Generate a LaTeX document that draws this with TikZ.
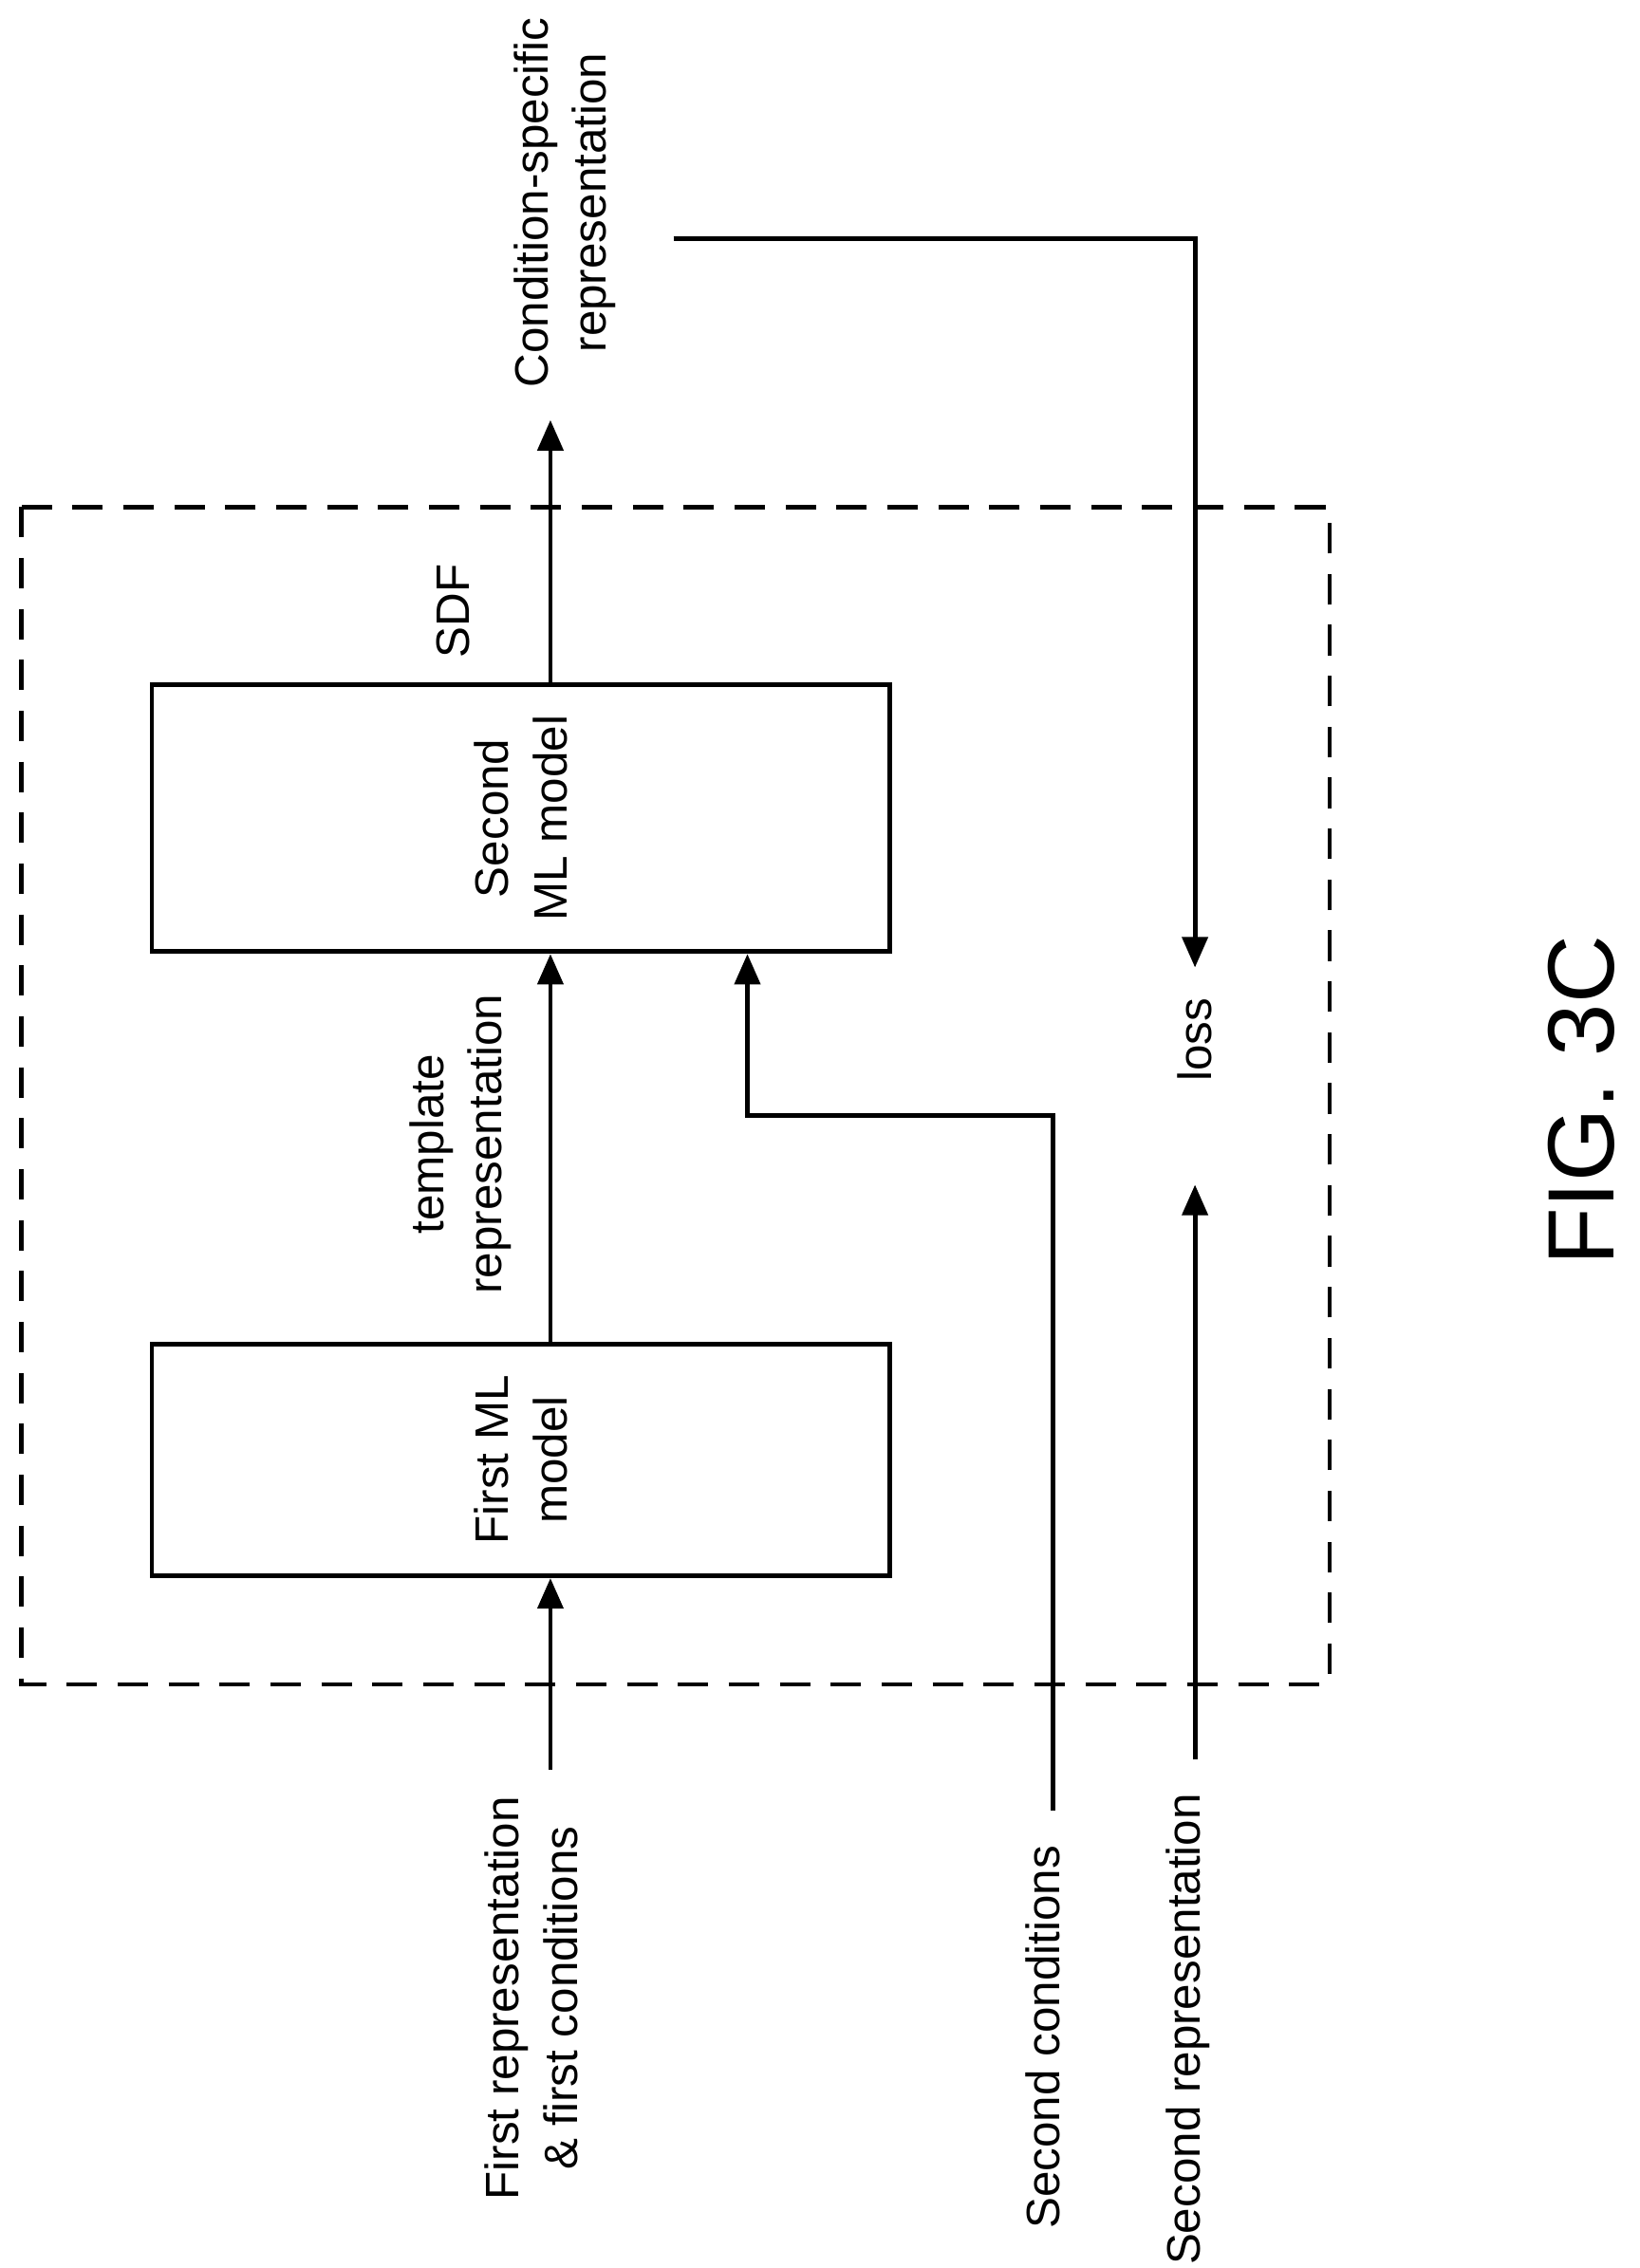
\documentclass[tikz,border=0pt]{standalone}
\usepackage{fontspec}
\setmainfont{Liberation Sans}
\usetikzlibrary{arrows.meta}
\tikzset{
  model/.style={draw,line width=0.9pt,inner sep=0pt},
  lbl/.style={rotate=90,font=\fontsize{9.2}{11.5}\selectfont,align=center},
  flow/.style={line width=0.9pt,-{Triangle[length=6pt,width=5pt]}}
}
\begin{document}
\begin{tikzpicture}[x=0.01cm,y=-0.01cm]
    \useasboundingbox (0,0) rectangle (1132,1566);
    \draw[dashed,line width=0.9pt,dash pattern=on 6pt off 4pt] (15,350) rectangle (918,1163);
    \node[model,minimum width=5.09cm,minimum height=1.6cm] (F) at (359.5,1008) {};
    \node[model,minimum width=5.09cm,minimum height=1.84cm] (S) at (359.5,565) {};
    \node[lbl] at (F.center) {First ML\\model};
    \node[lbl] at (S.center) {Second\\ML model};
    \coordinate (in1) at (380,1222);
    \coordinate (out) at (380,290);
    \coordinate (c1) at (727,1250);
    \coordinate (c2) at (727,770);
    \coordinate (c3) at (516,770);
    \coordinate (r1) at (465,165);
    \coordinate (r2) at (825,165);
    \coordinate (r3) at (825,668);
    \coordinate (s1) at (825,1215);
    \coordinate (s2) at (825,818);
    \node[lbl,anchor=east] (I) at (367,1228) {First representation\\\& first conditions};
    \node[lbl,anchor=east] (C) at (720,1262) {Second conditions};
    \node[lbl,anchor=east] (R) at (820,1226) {Second representation};
    \node[lbl,anchor=west] (O) at (390,280) {Condition-specific\\representation};
    \node[lbl] (T) at (318,790) {template\\representation};
    \node[lbl] (D) at (313,422) {SDF};
    \node[lbl] (L) at (825,718) {loss};
    \node[rotate=90,font=\fontsize{18.5}{22}\selectfont] (G) at (1092,760) {FIG. 3C};
    \draw[flow] (in1) -- (F.south -| in1);
    \draw[flow] (F.north -| in1) -- (S.south -| in1);
    \draw[flow] (S.north -| out) -- (out);
    \draw[flow] (c1) -- (c2) -- (c3) -- (S.south -| c3);
    \draw[flow] (r1) -- (r2) -- (r3);
    \draw[flow] (s1) -- (s2);
  \end{tikzpicture}
\end{document}
